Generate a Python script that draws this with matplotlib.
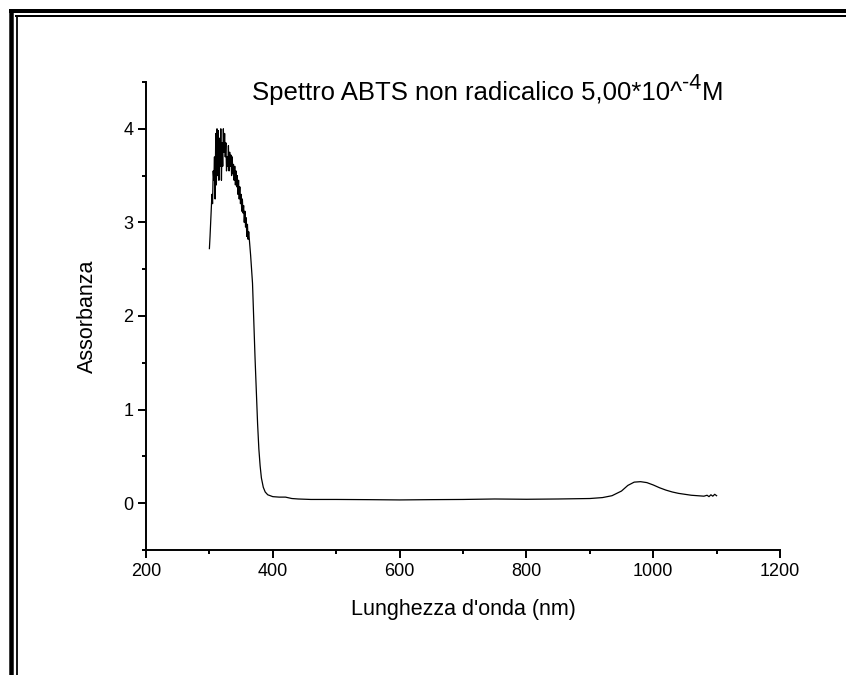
import matplotlib
matplotlib.use("Agg")
import matplotlib.pyplot as plt
from matplotlib.lines import Line2D
from matplotlib.ticker import MultipleLocator

plt.rcParams['font.family'] = ['Liberation Sans', 'DejaVu Sans']

# ---- data ----
wavelength_noisy = list(range(300, 363))
absorb_noisy = [2.72, 2.85, 3.00, 3.15, 3.30, 3.20, 3.55, 3.45, 3.70, 3.25,
                3.95, 3.40, 4.00, 3.50, 3.98, 3.45, 3.90, 3.60, 4.00, 3.45,
                3.85, 3.60, 4.00, 3.75, 3.95, 3.70, 3.85, 3.55, 3.70, 3.60,
                3.82, 3.55, 3.75, 3.60, 3.72, 3.50, 3.70, 3.52, 3.62, 3.45,
                3.60, 3.40, 3.55, 3.38, 3.50, 3.30, 3.45, 3.25, 3.38, 3.20,
                3.30, 3.12, 3.25, 3.10, 3.18, 3.00, 3.12, 2.95, 3.05, 2.85,
                2.98, 2.82, 2.90]
wavelength_tail = [365, 368, 370, 372, 374, 376, 378, 380, 382, 385, 388, 392,
                   396, 400, 410, 420, 430, 440, 460, 500, 550, 600, 650, 700,
                   750, 800, 850, 900, 920, 935, 950, 960, 970, 980, 990, 1000,
                   1010, 1020, 1030, 1040, 1050, 1060, 1070, 1080, 1085, 1088,
                   1091, 1094, 1097, 1100]
absorb_tail = [2.65, 2.35, 1.95, 1.55, 1.20, 0.85, 0.58, 0.40, 0.27, 0.17,
               0.12, 0.09, 0.08, 0.07, 0.065, 0.065, 0.05, 0.045, 0.04, 0.04,
               0.038, 0.035, 0.038, 0.04, 0.045, 0.042, 0.045, 0.05, 0.06,
               0.08, 0.13, 0.19, 0.225, 0.23, 0.22, 0.195, 0.165, 0.14, 0.12,
               0.105, 0.095, 0.085, 0.08, 0.075, 0.085, 0.07, 0.09, 0.075,
               0.095, 0.08]
x_ticks = [200, 400, 600, 800, 1000, 1200]
y_ticks = [0, 1, 2, 3, 4]

wavelength = wavelength_noisy + wavelength_tail
absorbance = absorb_noisy + absorb_tail

fig = plt.figure(figsize=(8.46, 6.75), dpi=100)
W, H = 846, 675
ax = fig.add_axes([146 / W, 1 - 550 / H, (780 - 146) / W, (550 - 82) / H])

ax.plot(wavelength, absorbance, color='black', linewidth=0.9)

ax.set_xlim(200, 1200)
ax.set_ylim(-0.5, 4.5)
ax.set_xticks(x_ticks)
ax.set_yticks(y_ticks)
ax.xaxis.set_minor_locator(MultipleLocator(100))
ax.yaxis.set_minor_locator(MultipleLocator(0.5))
for s in ['top', 'right']:
    ax.spines[s].set_visible(False)
for s in ['left', 'bottom']:
    ax.spines[s].set_linewidth(1.4)
ax.tick_params(which='major', direction='out', length=6, width=1.4, labelsize=13, pad=3)
ax.tick_params(which='minor', direction='out', length=3, width=1.4)

ax.set_xlabel("Lunghezza d'onda (nm)", fontsize=15.5, labelpad=14)
ax.set_ylabel("Assorbanza", fontsize=15.5, labelpad=18)

# title with raised exponent
title_main = "Spettro ABTS non radicalico 5,00*10^"
title_sup = "-4"
title_end = "M"
t1 = fig.text(252 / W, 1 - 100 / H, title_main, fontsize=18.5, ha='left', va='baseline')
fig.canvas.draw()
r = fig.canvas.get_renderer()
bb1 = t1.get_window_extent(r)
t2 = fig.text(bb1.x1 / W, 1 - 89 / H, title_sup, fontsize=15.5, ha='left', va='baseline')
bb2 = t2.get_window_extent(r)
fig.text(bb2.x1 / W, 1 - 100 / H, title_end, fontsize=18.5, ha='left', va='baseline')

# frame lines (Origin-style page border)
def px_line(x0, y0, x1, y1, lw_px):
    fig.add_artist(Line2D([x0 / W, x1 / W], [1 - y0 / H, 1 - y1 / H],
                          transform=fig.transFigure, color='black',
                          linewidth=lw_px * 72 / 100, solid_capstyle='butt'))

px_line(9, 11, W, 11, 4)
px_line(11, 9, 11, H, 4.5)
px_line(15, 15.5, W, 15.5, 2)
px_line(16.5, 14.5, 16.5, H, 1.8)

fig.savefig("out.png", dpi=100)
